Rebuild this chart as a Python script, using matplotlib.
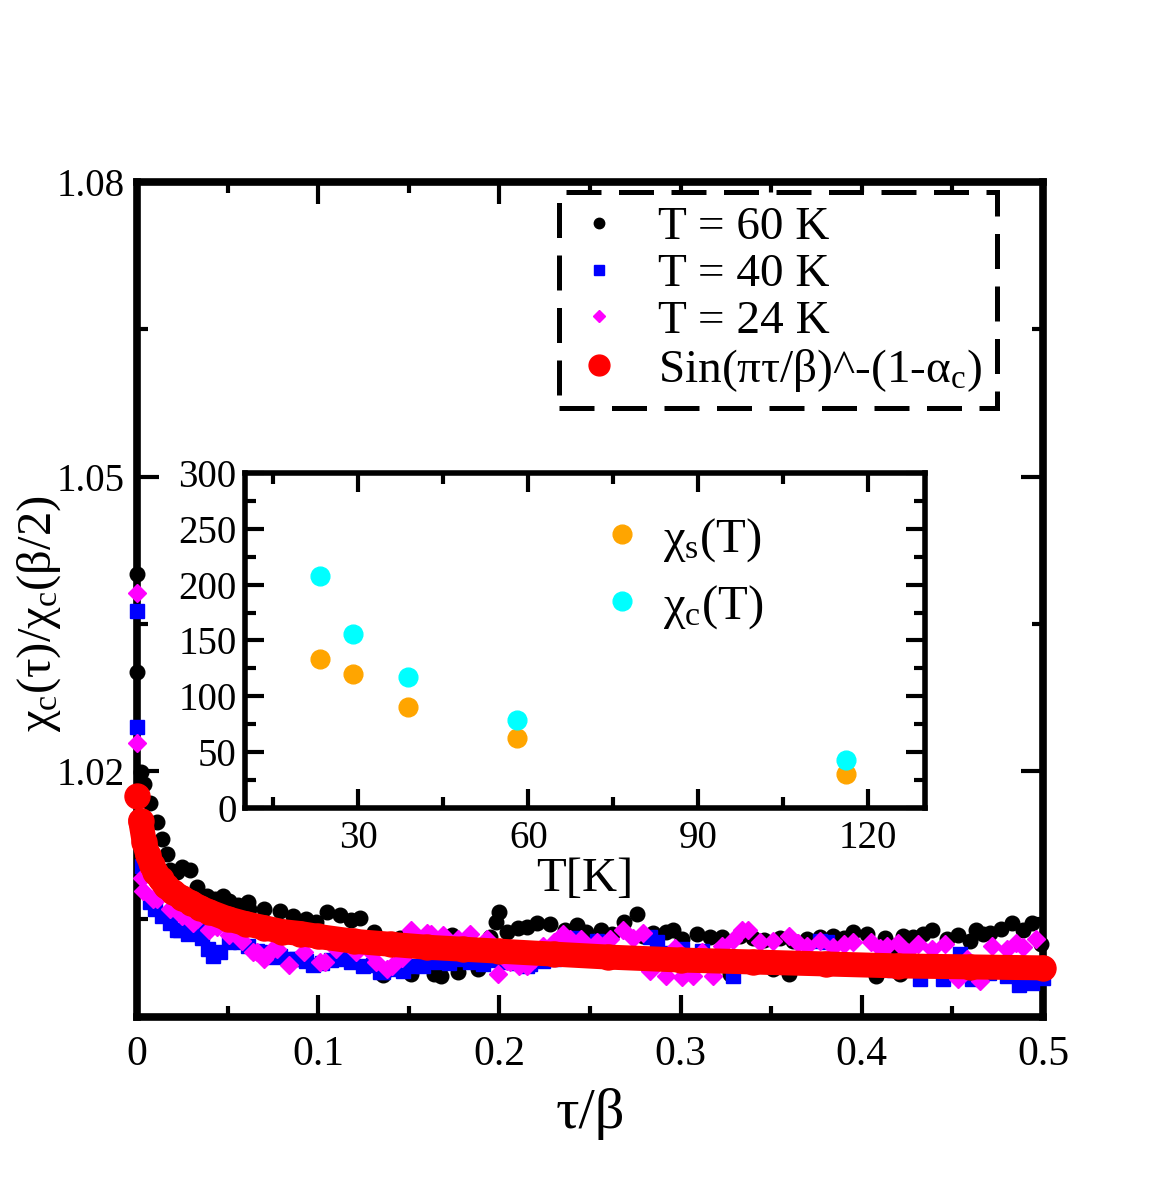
import matplotlib
matplotlib.use("Agg")
import matplotlib.pyplot as plt
from matplotlib.lines import Line2D
from matplotlib.ticker import MultipleLocator

plt.rcParams['font.family'] = ['Liberation Serif', 'DejaVu Serif']
plt.rcParams['mathtext.fontset'] = 'custom'
plt.rcParams['mathtext.rm'] = 'Liberation Serif'
plt.rcParams['mathtext.it'] = 'Liberation Serif:italic'

# T = 60 K
tau_60 = [0.000, 0.000, 0.002, 0.004, 0.007, 0.011, 0.014, 0.0166, 0.018, 0.022,
          0.025, 0.029, 0.033, 0.0386, 0.043, 0.0475, 0.051, 0.056, 0.061, 0.062,
          0.070, 0.079, 0.086, 0.093, 0.099, 0.105, 0.112, 0.118, 0.123, 0.131,
          0.136, 0.145, 0.151, 0.158, 0.164, 0.167, 0.168, 0.174, 0.177, 0.183,
          0.188, 0.195, 0.198, 0.200, 0.204, 0.210, 0.215, 0.221, 0.228, 0.236,
          0.243, 0.248, 0.256, 0.262, 0.269, 0.276, 0.279, 0.285, 0.292, 0.296,
          0.301, 0.309, 0.316, 0.323, 0.327, 0.333, 0.340, 0.346, 0.351, 0.355,
          0.360, 0.362, 0.370, 0.377, 0.384, 0.390, 0.395, 0.403, 0.408, 0.413,
          0.418, 0.421, 0.423, 0.428, 0.434, 0.439, 0.447, 0.453, 0.460, 0.463,
          0.467, 0.471, 0.477, 0.483, 0.489, 0.494, 0.499]
chi_60 = [1.0401, 1.0301, 1.0199, 1.0187, 1.0168, 1.0149, 1.0131, 1.0116, 1.0100, 1.0098,
          1.0103, 1.0100, 1.0082, 1.0073, 1.0070, 1.0073, 1.0068, 1.0064, 1.0067, 1.0060,
          1.0060, 1.0058, 1.0053, 1.0050, 1.0047, 1.0057, 1.0054, 1.0049, 1.0051, 1.0037,
          0.9993, 1.0030, 0.9994, 1.0027, 0.9994, 1.0001, 0.9992, 1.0033, 0.9996, 1.0028,
          0.9999, 1.0031, 1.0047, 1.0057, 1.0037, 1.0041, 1.0042, 1.0046, 1.0045, 1.0039,
          1.0044, 1.0037, 1.0039, 1.0035, 1.0047, 1.0055, 1.0032, 1.0036, 1.0037, 1.0039,
          1.0029, 1.0034, 1.0031, 1.0031, 0.9994, 1.0032, 1.0030, 1.0028, 0.9999, 1.0030,
          0.9994, 1.0027, 1.0029, 1.0031, 1.0032, 1.0030, 1.0037, 1.0034, 0.9992, 1.0030,
          1.0022, 0.9994, 1.0032, 1.0031, 1.0035, 1.0039, 1.0029, 1.0033, 1.0027, 1.0039,
          1.0034, 1.0036, 1.0040, 1.0046, 1.0039, 1.0046, 1.0024]

# T = 40 K
tau_40 = [0.000, 0.000, 0.003, 0.007, 0.010, 0.014, 0.018, 0.022, 0.024, 0.028,
          0.033, 0.036, 0.039, 0.042, 0.046, 0.051, 0.057, 0.061, 0.066, 0.068,
          0.075, 0.079, 0.086, 0.088, 0.093, 0.097, 0.102, 0.107, 0.114, 0.118,
          0.125, 0.130, 0.134, 0.136, 0.142, 0.147, 0.152, 0.158, 0.166, 0.172,
          0.179, 0.184, 0.191, 0.197, 0.204, 0.210, 0.215, 0.217, 0.224, 0.230,
          0.241, 0.248, 0.254, 0.262, 0.270, 0.283, 0.287, 0.294, 0.301, 0.312,
          0.320, 0.329, 0.340, 0.355, 0.366, 0.377, 0.381, 0.392, 0.405, 0.418,
          0.432, 0.445, 0.454, 0.461, 0.470, 0.480, 0.487, 0.494, 0.500]
chi_40 = [1.0363, 1.0245, 1.0104, 1.0067, 1.0060, 1.0053, 1.0046, 1.0039, 1.0039, 1.0034,
          1.0039, 1.0030, 1.0019, 1.0012, 1.0016, 1.0026, 1.0026, 1.0022, 1.0017, 1.0016,
          1.0011, 1.0012, 1.0009, 1.0009, 1.0007, 1.0003, 1.0005, 1.0008, 1.0009, 1.0006,
          1.0002, 1.0003, 0.9996, 0.9996, 0.9999, 0.9997, 1.0002, 1.0002, 1.0006, 1.0005,
          1.0009, 1.0006, 1.0004, 1.0008, 1.0006, 1.0005, 1.0002, 1.0004, 1.0007, 1.0009,
          1.0030, 1.0022, 1.0027, 1.0012, 1.0010, 1.0031, 1.0026, 1.0015, 1.0019, 1.0017,
          1.0005, 0.9992, 1.0004, 1.0003, 1.0008, 1.0027, 1.0026, 1.0004, 1.0002, 0.9998,
          0.9989, 0.9989, 1.0014, 0.9989, 0.9995, 0.9992, 0.9983, 0.9985, 0.9990]

# T = 24 K
tau_24 = [0.000, 0.000, 0.003, 0.0035, 0.009, 0.011, 0.018, 0.025, 0.028, 0.031,
          0.033, 0.040, 0.044, 0.051, 0.058, 0.064, 0.066, 0.070, 0.075, 0.077,
          0.084, 0.092, 0.101, 0.104, 0.110, 0.118, 0.121, 0.129, 0.132, 0.138,
          0.141, 0.146, 0.151, 0.152, 0.160, 0.162, 0.169, 0.174, 0.177, 0.184,
          0.193, 0.199, 0.204, 0.206, 0.211, 0.215, 0.219, 0.224, 0.230, 0.235,
          0.239, 0.245, 0.250, 0.254, 0.261, 0.268, 0.274, 0.279, 0.283, 0.292,
          0.297, 0.301, 0.307, 0.312, 0.318, 0.323, 0.329, 0.334, 0.337, 0.344,
          0.351, 0.360, 0.365, 0.370, 0.377, 0.384, 0.390, 0.395, 0.405, 0.410,
          0.414, 0.420, 0.425, 0.431, 0.439, 0.446, 0.453, 0.458, 0.465, 0.472,
          0.480, 0.485, 0.489, 0.496]
chi_24 = [1.0382, 1.0229, 1.0092, 1.0078, 1.0070, 1.0070, 1.0060, 1.0053, 1.0053, 1.0046,
          1.0050, 1.0039, 1.0042, 1.0033, 1.0027, 1.0016, 1.0016, 1.0009, 1.0019, 1.0019,
          1.0003, 1.0016, 1.0006, 1.0006, 1.0019, 1.0024, 1.0016, 1.0016, 1.0006, 0.9999,
          1.0002, 1.0010, 1.0039, 1.0037, 1.0036, 1.0034, 1.0033, 1.0019, 1.0029, 1.0034,
          1.0029, 0.9994, 1.0007, 1.0006, 1.0002, 1.0002, 1.0009, 1.0022, 1.0026, 1.0034,
          1.0029, 1.0029, 1.0020, 1.0026, 1.0029, 1.0039, 1.0030, 1.0036, 0.9997, 0.9992,
          1.0020, 0.9991, 0.9992, 1.0016, 0.9992, 1.0022, 1.0028, 1.0039, 1.0039, 1.0026,
          1.0027, 1.0032, 1.0025, 1.0022, 1.0027, 1.0021, 1.0024, 1.0026, 1.0026, 1.0020,
          1.0022, 1.0025, 1.0016, 1.0024, 1.0019, 1.0024, 0.9989, 1.0009, 0.9987, 1.0022,
          1.0019, 1.0025, 1.0021, 1.0029]

# fit Sin(pi tau/beta)^-(1-alpha_c)
tau_fit = [0.000, 0.002, 0.004, 0.006, 0.008, 0.010, 0.013, 0.016, 0.020, 0.025,
           0.030, 0.035, 0.040, 0.050, 0.060, 0.070, 0.080, 0.090, 0.100, 0.120,
           0.140, 0.160, 0.180, 0.200, 0.230, 0.260, 0.300, 0.340, 0.380, 0.420,
           0.460, 0.500]
chi_fit = [1.0175, 1.0150, 1.0128, 1.0115, 1.0105, 1.0098, 1.0090, 1.0083, 1.0077, 1.0071,
           1.0066, 1.0061, 1.0057, 1.0050, 1.0045, 1.0041, 1.0037, 1.0035, 1.0032, 1.0027,
           1.0024, 1.0021, 1.0019, 1.0017, 1.0014, 1.0011, 1.0008, 1.0006, 1.0004, 1.0002,
           1.0001, 1.0000]

# inset
T_K = [23.2, 29.0, 38.7, 58.0, 116.0]
chi_s = [133.4, 120.0, 90.4, 62.7, 30.4]
chi_c = [207.8, 155.8, 117.3, 78.8, 43.0]

fig = plt.figure(figsize=(11.72, 12.0), dpi=100)
ax = fig.add_axes([0.1169, 0.1525, 0.7730, 0.6958])

ax.plot(tau_60, chi_60, 'o', color='black', ms=10.5, clip_on=False, zorder=3)
ax.plot(tau_40, chi_40, 's', color='#0000ff', ms=9.5, clip_on=False, zorder=4)
ax.plot(tau_24, chi_24, 'D', color='#ff00ff', ms=9, clip_on=False, zorder=5)
ax.plot(tau_fit[1:], chi_fit[1:], '-', color='red', lw=18, solid_capstyle='round',
        clip_on=False, zorder=6)
ax.plot(tau_fit, chi_fit, 'o', color='red', ms=18, clip_on=False, zorder=6)

ax.set_xlim(0, 0.5)
ax.set_ylim(0.995, 1.08)
ax.set_xticks([0, 0.1, 0.2, 0.3, 0.4, 0.5], labels=['0', '0.1', '0.2', '0.3', '0.4', '0.5'])
ax.set_xticks([0.05, 0.15, 0.25, 0.35, 0.45], minor=True)
ax.set_yticks([1.02, 1.05, 1.08], labels=['1.02', '1.05', '1.08'])
ax.set_yticks([1.005, 1.035, 1.065], minor=True)
ax.tick_params(which='both', direction='in', top=True, right=True, width=3)
ax.tick_params(axis='x', labelsize=30, pad=13)
ax.tick_params(axis='y', labelsize=28, pad=9)
ax.tick_params(which='major', length=16)
ax.tick_params(which='minor', length=8)
for s in ax.spines.values():
    s.set_linewidth(5.5)

ax.set_xlabel('τ/β', fontsize=42)
ax.xaxis.set_label_coords(0.5, -0.085)
ax.set_ylabel(r'χ$_\mathrm{c}$(τ)/χ$_\mathrm{c}$(β/2)', fontsize=35)
ax.yaxis.set_label_coords(-0.082, 0.483)

handles = [
    Line2D([], [], ls='none', marker='o', color='black', ms=7.5),
    Line2D([], [], ls='none', marker='s', color='#0000ff', ms=7.5),
    Line2D([], [], ls='none', marker='D', color='#ff00ff', ms=6.5),
    Line2D([], [], ls='none', marker='o', color='red', ms=15),
]
labels = ['T = 60 K', 'T = 40 K', 'T = 24 K', r'Sin(πτ/β)^-(1-α$_\mathrm{c}$)']
leg = ax.legend(handles, labels, loc='upper right', bbox_to_anchor=(0.949, 0.988),
                borderaxespad=0, fontsize=34, frameon=True, fancybox=False, framealpha=1,
                labelspacing=0.08, handletextpad=0.7, borderpad=0.3, handlelength=1.1)
frame = leg.get_frame()
frame.set_edgecolor('black')
frame.set_linewidth(3.6)
frame.set_linestyle((0, (7, 3.5)))
leg.set_zorder(10)

# inset
axi = fig.add_axes([0.2090, 0.3267, 0.5802, 0.2792])
axi.set_facecolor('white')
axi.plot(T_K, chi_s, 'o', color='#ffa500', ms=13.5, label=r'χ$_\mathrm{s}$(T)')
axi.plot(T_K, chi_c, 'o', color='#00ffff', ms=13.5, label=r'χ$_\mathrm{c}$(T)')
axi.set_xlim(10, 130)
axi.set_ylim(0, 300)
axi.xaxis.set_major_locator(MultipleLocator(30))
axi.xaxis.set_minor_locator(MultipleLocator(15))
axi.yaxis.set_major_locator(MultipleLocator(50))
axi.yaxis.set_minor_locator(MultipleLocator(25))
axi.tick_params(which='both', direction='in', top=True, right=True, width=3, labelsize=28)
axi.tick_params(which='major', length=14)
axi.tick_params(which='minor', length=8)
axi.tick_params(axis='x', pad=9)
axi.tick_params(axis='y', pad=6)
for s in axi.spines.values():
    s.set_linewidth(4)
axi.set_xlabel('T[K]', fontsize=35, labelpad=0)
axi.legend(loc='upper left', bbox_to_anchor=(0.49, 0.93), fontsize=35, frameon=False,
           handletextpad=0.35, labelspacing=0.4, handlelength=1.0, borderaxespad=0)

fig.savefig('out.png', dpi=100)
